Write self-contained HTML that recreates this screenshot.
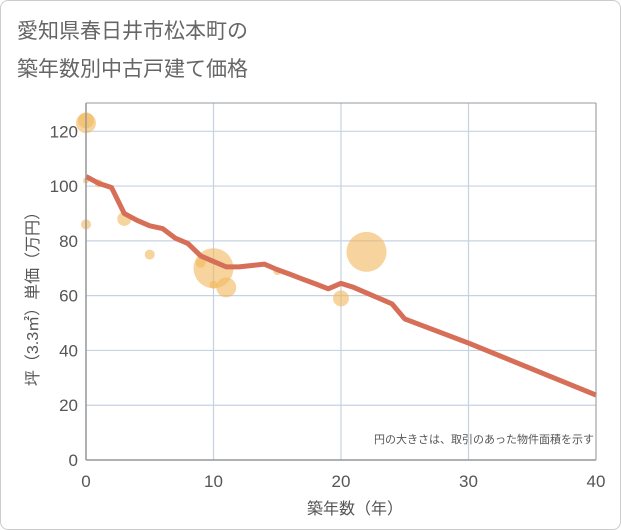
<!DOCTYPE html>
<html><head><meta charset="utf-8"><style>
body{margin:0;background:#fff;font-family:"Liberation Sans","Noto Sans CJK JP",sans-serif;}
#wrap{position:relative;width:619px;height:528px;border:1px solid #ccc;border-radius:8px;background:#fff;overflow:hidden}
</style></head><body>
<div id="wrap">
<svg width="621" height="530" id="chart" style="position:absolute;left:-1px;top:-1px">
<text x="17" y="38" font-size="21" fill="#666" font-family="Liberation Sans,Noto Sans CJK JP,sans-serif">愛知県春日井市松本町の</text>
<text x="17" y="76" font-size="21" fill="#666" font-family="Liberation Sans,Noto Sans CJK JP,sans-serif">築年数別中古戸建て価格</text>
<g id="grid"></g><g id="bubbles"></g><g id="line"></g><g id="axes"></g>
<text x="594" y="443" font-size="11" fill="#555" text-anchor="end" font-family="Liberation Sans,Noto Sans CJK JP,sans-serif">円の大きさは、取引のあった物件面積を示す</text>
<text x="355" y="514" font-size="16" fill="#555" text-anchor="middle" font-family="Liberation Sans,Noto Sans CJK JP,sans-serif">築年数（年）</text>
<text transform="translate(38,295) rotate(-90)" font-size="16" fill="#555" text-anchor="middle" font-family="Liberation Sans,Noto Sans CJK JP,sans-serif">坪（3.3㎡）単価（万円）</text>
</svg></div>
<script>
const xTicks=[0,10,20,30,40];
const yTicks=[0,20,40,60,80,100,120];
const lineYears=[0,1,2,3,4,5,6,7,8,9,10,11,12,13,14,15,16,17,18,19,20,21,22,23,24,25,30,40];
const linePrices=[103.5,101,99.5,90,87.5,85.5,84.5,81,79,74.5,72.5,70.5,70.5,71,71.5,69.5,67.8,66,64.3,62.5,64.5,63,61,59,57,51.5,42.7,23.7];
const bubbleYears=[0,0,0,1,0,3,5,9,10,11,10,15,20,22];
const bubblePrices=[123,124,86,101,102,88,75,72,70,63,64,69,59,76];
const bubbleRadii=[10,8,5,4,3,7,5,5,20,10,4,4,8,20];
const NS="http://www.w3.org/2000/svg";
const X0=86,X1=596,Y0=460,Y1=131.3;
const xs=v=>X0+(v/40)*(X1-X0);
const ys=v=>Y0-(v/120)*(Y0-Y1);
function mk(t,a,p){const e=document.createElementNS(NS,t);for(const k in a)e.setAttribute(k,a[k]);p.appendChild(e);return e;}
const grid=document.getElementById('grid'),axes=document.getElementById('axes');
mk('rect',{x:X0,y:103,width:X1-X0,height:Y0-103,fill:'#fff',stroke:'none'},grid);
xTicks.forEach(t=>{const l=mk('line',{x1:xs(t),x2:xs(t),y1:103,y2:Y0,stroke:'#c5d3e0','stroke-width':1.2},grid);


const tx=mk('text',{x:xs(t),y:487,'font-size':17,fill:'#555','text-anchor':'middle'},axes);tx.textContent=t;

});
yTicks.forEach(t=>{const l=mk('line',{x1:X0,x2:X1,y1:ys(t),y2:ys(t),stroke:'#c5d3e0','stroke-width':1.2},grid);


const tx=mk('text',{x:78,y:ys(t)+6,'font-size':17,fill:'#555','text-anchor':'end'},axes);tx.textContent=t;

});
mk('line',{x1:X0,x2:X0,y1:103,y2:Y0,stroke:'#999','stroke-width':1.5},axes);
mk('line',{x1:X0,x2:X1,y1:Y0,y2:Y0,stroke:'#999','stroke-width':1.5},axes);
mk('line',{x1:X0,x2:X1,y1:103,y2:103,stroke:'#999','stroke-width':1},axes);
mk('line',{x1:X1,x2:X1,y1:103,y2:Y0,stroke:'#999','stroke-width':1},axes);
const bg=document.getElementById('bubbles');
bubbleYears.forEach((yr,i)=>{const c=mk('circle',{cx:xs(yr),cy:ys(bubblePrices[i]),r:bubbleRadii[i],fill:'#f2b85c','fill-opacity':0.6},bg);

});
const pts=lineYears.map((yr,i)=>xs(yr)+','+ys(linePrices[i])).join(' ');
const pl=mk('polyline',{points:pts,fill:'none',stroke:'#d66e58','stroke-width':5,'stroke-linejoin':'round'},document.getElementById('line'));


</script>
</body></html>
